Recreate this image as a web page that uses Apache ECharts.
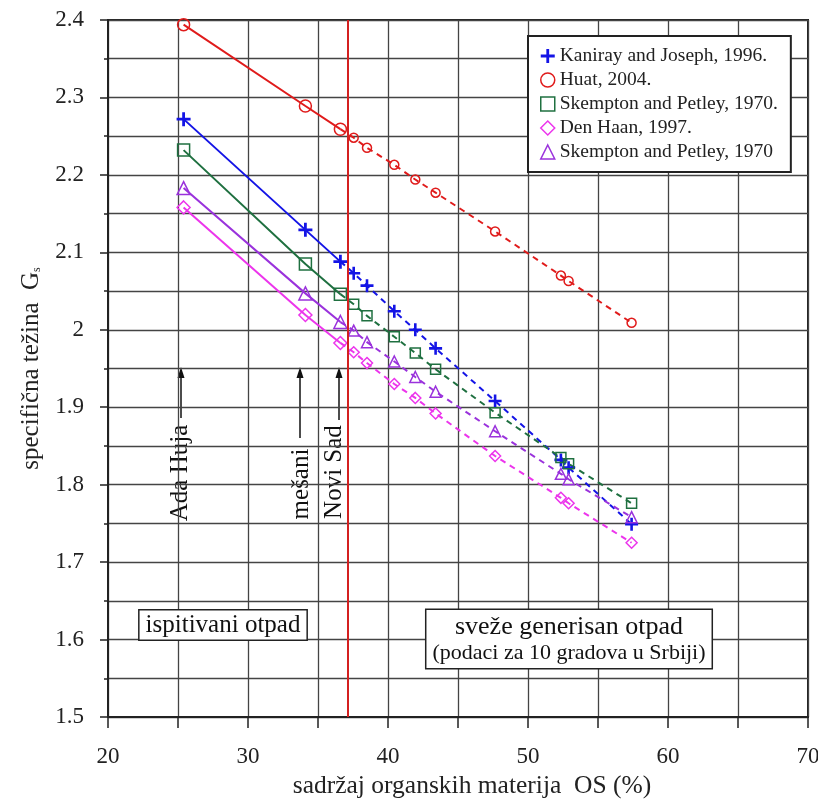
<!DOCTYPE html>
<html>
<head>
<meta charset="utf-8">
<script src="https://cdn.jsdelivr.net/npm/echarts@6/dist/echarts.min.js"></script>
<style>
  html, body { margin: 0; padding: 0; background: #fff; }
  #chart { width: 818px; height: 803px; }
</style>
</head>
<body>
<div id="chart"></div>
<script>
// x: sadržaj organskih materija (%)
var xSolid = [25.4, 34.1, 36.6];   // Ada Huja, mešani, Novi Sad
var xDashed = [37.55, 38.5, 40.45, 41.95, 43.4, 47.65, 52.35, 52.9, 57.4]; // 10 gradova

var kanirayS = [2.272, 2.129, 2.088];
var kanirayD = [2.073, 2.057, 2.024, 2.000, 1.976, 1.908, 1.832, 1.822, 1.749];
var huatS = [2.394, 2.289, 2.259];
var huatD = [2.248, 2.235, 2.213, 2.194, 2.177, 2.127, 2.070, 2.063, 2.009];
var skemptonS = [2.232, 2.085, 2.046];
var skemptonD = [2.033, 2.018, 1.991, 1.970, 1.949, 1.893, 1.835, 1.827, 1.776];
var denHaanS = [2.158, 2.019, 1.983];
var denHaanD = [1.971, 1.957, 1.930, 1.912, 1.892, 1.837, 1.783, 1.776, 1.725];
var skempton2S = [2.183, 2.047, 2.010];
var skempton2D = [1.999, 1.984, 1.959, 1.939, 1.920, 1.869, 1.814, 1.807, 1.758];

var names = ['Kaniray and Joseph, 1996.', 'Huat, 2004.', 'Skempton and Petley, 1970.', 'Den Haan, 1997.', 'Skempton and Petley, 1970'];
var granica = 37.1;

var FONT = 'Liberation Serif';
var PLUS = 'path://M4,0h2v4h4v2h-4v4h-2v-4h-4v-2h4z';

var sets = [
  { name: names[0], s: kanirayS, d: kanirayD, color: '#1414e6', symbol: PLUS, filled: true, size: [14, 13] },
  { name: names[1], s: huatS, d: huatD, color: '#e01b1b', symbol: 'circle', size: [12, 9] },
  { name: names[2], s: skemptonS, d: skemptonD, color: '#1f7040', symbol: 'rect', size: [12, 10] },
  { name: names[3], s: denHaanS, d: denHaanD, color: '#ec35ec', symbol: 'diamond', size: [13, 11] },
  { name: names[4], s: skempton2S, d: skempton2D, color: '#9a32dc', symbol: 'triangle', size: [13, 11] }
];

function pts(xs, ys) {
  var out = [];
  for (var i = 0; i < xs.length; i++) out.push([xs[i], ys[i]]);
  return out;
}

function itemSt(set) {
  if (set.filled) return { color: set.color, borderWidth: 0 };
  return { color: 'rgba(255,255,255,0)', borderColor: set.color, borderWidth: 1.5 };
}

var series = [];
sets.forEach(function (set) {
  series.push({
    name: set.name,
    type: 'line',
    data: pts(xSolid, set.s),
    symbol: set.symbol,
    symbolSize: set.size[0],
    itemStyle: itemSt(set),
    lineStyle: { color: set.color, width: 2 },
    z: 3
  });
  // isprekidana linija počinje od poslednje tačke pune linije
  var dd = pts(xDashed, set.d);
  dd.unshift({ value: [xSolid[2], set.s[2]], symbol: 'none' });
  series.push({
    name: set.name,
    type: 'line',
    data: dd,
    symbol: set.symbol,
    symbolSize: set.size[1],
    itemStyle: itemSt(set),
    lineStyle: { color: set.color, width: 2, type: [6, 5] },
    z: 3
  });
});

// crvena vertikalna linija
series[0].markLine = {
  silent: true,
  symbol: 'none',
  label: { show: false },
  lineStyle: { color: '#d42020', width: 2, type: 'solid' },
  data: [{ xAxis: granica }]
};

function arrow(x, yTop, yBot) {
  return {
    type: 'group',
    children: [
      { type: 'line', shape: { x1: x, y1: yTop + 4, x2: x, y2: yBot }, style: { stroke: '#111', lineWidth: 1.5 } },
      { type: 'polygon', shape: { points: [[x, yTop], [x - 3.5, yTop + 11], [x + 3.5, yTop + 11]] }, style: { fill: '#111' } }
    ]
  };
}

function vtext(txt, x, y) {
  return {
    type: 'text', x: x, y: y, rotation: Math.PI / 2,
    style: { text: txt, font: '25px "' + FONT + '"', fill: '#111', align: 'center', verticalAlign: 'middle' }
  };
}

var myChart = echarts.init(document.getElementById('chart'));
var option = {
  animation: false,
  backgroundColor: '#fff',
  grid: {
    left: 108, right: 10, top: 20, bottom: 86,
    outerBoundsMode: 'none',
    show: true, borderColor: '#222', borderWidth: 2
  },
  legend: {
    orient: 'vertical',
    left: 528,
    top: 36,
    padding: [10, 13, 10, 12],
    itemGap: 4,
    itemWidth: 14,
    itemHeight: 14,
    backgroundColor: '#fff',
    borderColor: '#222',
    borderWidth: 2,
    textStyle: { fontFamily: FONT, fontSize: 19.5, color: '#222' },
    data: sets.map(function (set) {
      return { name: set.name, icon: set.symbol, itemStyle: itemSt(set) };
    })
  },
  xAxis: {
    type: 'value',
    min: 20, max: 70, interval: 10,
    name: 'sadržaj organskih materija  OS (%)',
    nameLocation: 'middle',
    nameGap: 56,
    nameTextStyle: { fontFamily: FONT, fontSize: 25.5, color: '#222', padding: [0, 0, 0, 28] },
    axisLine: { onZero: false, lineStyle: { color: '#222', width: 2 } },
    axisTick: { length: 11, lineStyle: { color: '#222', width: 1.5 } },
    minorTick: { show: true, splitNumber: 2, length: 11, lineStyle: { color: '#222', width: 1.5 } },
    axisLabel: { margin: 28, fontFamily: FONT, fontSize: 23, color: '#222' },
    splitLine: { show: true, lineStyle: { color: '#444', width: 1.3 } },
    minorSplitLine: { show: true, lineStyle: { color: '#444', width: 1.3 } }
  },
  yAxis: {
    type: 'value',
    min: 1.5, max: 2.4, interval: 0.1,
    name: '{a|specifična težina  G}{s|s}',
    nameLocation: 'middle',
    nameGap: 62,
    nameRotate: 90,
    nameTextStyle: {
      rich: {
        a: { fontFamily: FONT, fontSize: 25, color: '#222' },
        s: { fontFamily: FONT, fontSize: 12, color: '#222', padding: [10, 0, 0, 0] }
      }
    },
    axisLine: { show: true, lineStyle: { color: '#222', width: 2 } },
    axisTick: { length: 8, lineStyle: { color: '#222', width: 1.5 } },
    minorTick: { show: true, splitNumber: 2, length: 4, lineStyle: { color: '#222', width: 1.5 } },
    axisLabel: { margin: 24, fontFamily: FONT, fontSize: 23, color: '#222' },
    splitLine: { show: true, lineStyle: { color: '#444', width: 1.3 } },
    minorSplitLine: { show: true, lineStyle: { color: '#444', width: 1.3 } }
  },
  graphic: [
    arrow(181, 367, 418),
    vtext('Ada Huja', 180, 473),
    arrow(300, 367, 438),
    vtext('mešani', 301, 484),
    arrow(339, 367, 420),
    vtext('Novi Sad', 334, 472),
    {
      type: 'text', x: 223, y: 625, z: 10,
      style: {
        text: 'ispitivani otpad', font: '25px "' + FONT + '"', fill: '#111',
        align: 'center', verticalAlign: 'middle',
        backgroundColor: '#fff', borderColor: '#222', borderWidth: 1.5, padding: [2, 6, 2, 6]
      }
    },
    {
      type: 'text', x: 569, y: 639, z: 10,
      style: {
        text: '{a|sveže generisan otpad}\n{b|(podaci za 10 gradova u Srbiji)}',
        rich: {
          a: { font: '26px "' + FONT + '"', fill: '#111', lineHeight: 28, align: 'center' },
          b: { font: '22px "' + FONT + '"', fill: '#111', lineHeight: 24, align: 'center' }
        },
        align: 'center', verticalAlign: 'middle',
        backgroundColor: '#fff', borderColor: '#222', borderWidth: 1.5, padding: [3, 6, 3, 6]
      }
    }
  ],
  series: series
};
myChart.setOption(option);
window.addEventListener('resize', function () {
  myChart.resize();
});
</script>
</body>
</html>
